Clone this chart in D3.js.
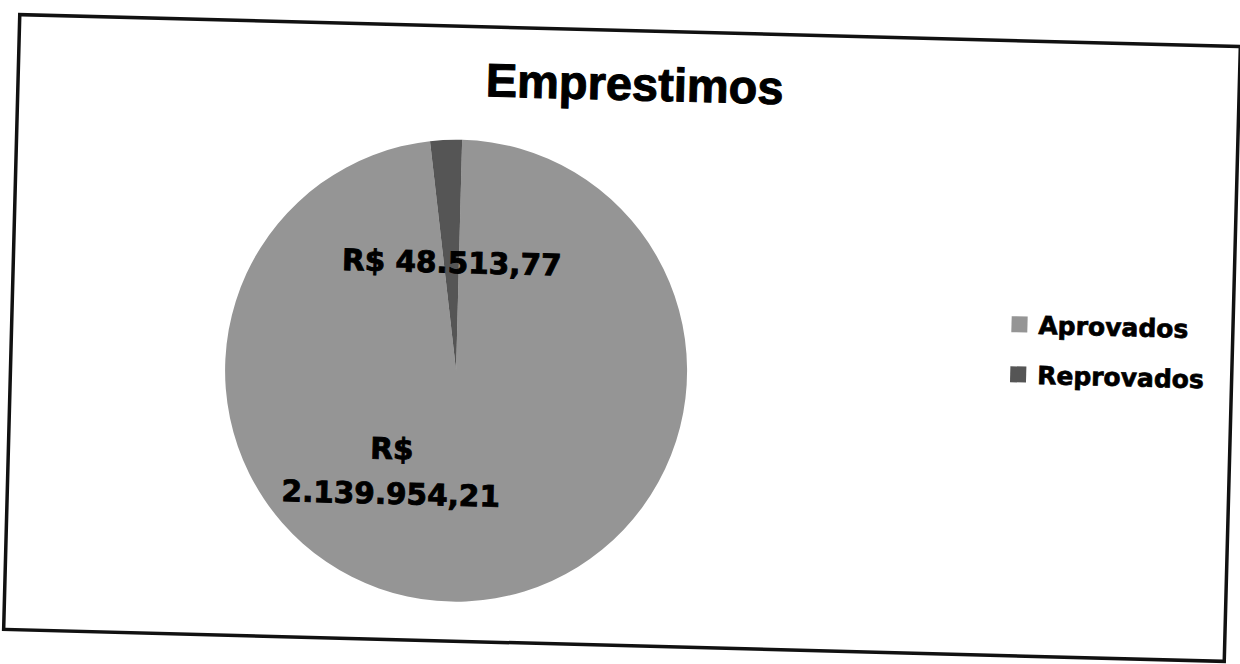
<!DOCTYPE html>
<meta charset="utf-8">
<script src="https://cdn.jsdelivr.net/npm/d3@7/dist/d3.min.js"></script>
<style>
	body{margin:0;background:#fff;}
	svg{display:block;}
	.title{font-family:"Liberation Sans",Arial,sans-serif;font-weight:bold;font-size:47px;stroke:#000;stroke-width:1;}
	.lbl{font-family:"DejaVu Sans",sans-serif;font-weight:bold;font-size:29.5px;stroke:#000;stroke-width:0.9;}
	.leg{font-family:"DejaVu Sans",sans-serif;font-weight:bold;font-size:25px;stroke:#000;stroke-width:0.7;}
</style>
<div id="chart"></div>
<script>
// data
var categories = ["Aprovados","Reprovados"]
var values = [2139954.21, 48513.77]
var colors = ["#959595","#555555"]
var title = "Emprestimos"

var width = 1240
var height = 664

var brl = d3.formatLocale({decimal:",",thousands:".",grouping:[3],currency:["R$ ",""]})
var fmt = brl.format("$,.2f")

var data = categories.map(function(c,i){ return {name:c,value:values[i],color:colors[i]} })

var svg = d3.select("#chart").append("svg")
	.attr("width",width)
	.attr("height",height)

// the scan is slightly tilted, so the whole chart is turned a little
var g = svg.append("g").attr("transform","rotate(1.5,622,338)")

// chart border
g.append("rect")
	.attr("x",11.5).attr("y",30.5)
	.attr("width",1221).attr("height",615)
	.attr("fill","#fff")
	.attr("stroke","#111")
	.attr("stroke-width",3.5)

g.append("text").attr("class","title")
	.attr("x",628).attr("y",100)
	.attr("text-anchor","middle")
	.text(title)

var cx = 457, cy = 375, r = 231

var pie = d3.pie().sort(null).value(function(d){return d.value})
var arcs = pie(data)
var arc = d3.arc().innerRadius(0).outerRadius(r)

var pieG = g.append("g").attr("transform","translate("+cx+","+cy+")")

pieG.selectAll("path")
	.data(arcs)
	.enter()
	.append("path")
	.attr("d",arc)
	.attr("fill",function(d){return d.data.color})

// labels: small slice sits on its centroid, big one is pushed "best fit" style
var labelPos = [
	{radius:128, turn:33},
	{radius:103, turn:0}
]
arcs.forEach(function(d,i){
	var mid = (d.startAngle+d.endAngle)/2 + labelPos[i].turn*Math.PI/180
	var lx = Math.sin(mid)*labelPos[i].radius
	var ly = -Math.cos(mid)*labelPos[i].radius
	var txt = fmt(d.data.value)
	var t = pieG.append("text").attr("class","lbl")
		.attr("text-anchor","middle")
		.attr("x",lx)
	t.text(txt)
	if(t.node().getComputedTextLength() > 245){
		// wrap like excel does
		var parts = txt.split(" ")
		t.text("")
		t.attr("y",ly-22)
		parts.forEach(function(p,j){
			t.append("tspan").attr("x",lx).attr("dy",j==0?0:45).text(p)
		})
	}else{
		t.attr("y",ly+5)
	}
})

// legend
var leg = g.append("g").attr("transform","translate(1011,0)")
var legY = d3.scalePoint().domain(categories).range([314,364])

var item = leg.selectAll("g")
	.data(data)
	.enter()
	.append("g")
	.attr("transform",function(d){return "translate(0,"+legY(d.name)+")"})

item.append("rect")
	.attr("x",0).attr("y",-8)
	.attr("width",16).attr("height",16)
	.attr("fill",function(d){return d.color})

item.append("text").attr("class","leg")
	.attr("x",27).attr("y",9)
	.text(function(d){return d.name})
</script>
